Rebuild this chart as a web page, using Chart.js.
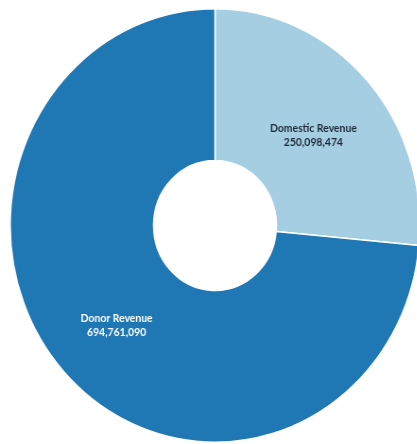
<!DOCTYPE html>
<html>
<head>
<meta charset="utf-8">
<script src="https://cdn.jsdelivr.net/npm/chart.js@4/dist/chart.umd.min.js"></script>
<style>
  html, body { margin: 0; padding: 0; background: #fff; overflow: hidden; }
  #wrap { width: 417px; height: 444px; overflow: hidden; position: relative; }
  #box { position: absolute; left: 0; top: 0; width: 455px; height: 444px; transform: scale(0.945, 1); transform-origin: 0 0; }
</style>
</head>
<body>
<div id="wrap"><div id="box"><canvas id="revenuePie" width="455" height="444"></canvas></div></div>
<script>
/* global Chart */
const labels = ['Domestic Revenue', 'Donor Revenue']
const values = [250098474, 694761090]
const colors = ['#a6cee3', '#1f77b4']
const labelColors = ['#1e2a38', '#ffffff']

// writes the name and amount on the middle of each slice
const sliceLabels = {
  id: 'sliceLabels',
  afterDatasetsDraw (chart) {
    const ctx = chart.ctx
    const meta = chart.getDatasetMeta(0)
    ctx.save()
    ctx.textAlign = 'center'
    ctx.textBaseline = 'middle'
    ctx.font = 'bold 11px Lato, "Open Sans", sans-serif'
    meta.data.forEach(function (arc, i) {
      const p = arc.tooltipPosition()
      ctx.fillStyle = labelColors[i]
      ctx.fillText(labels[i], p.x, p.y - 2)
      ctx.fillText(values[i].toLocaleString('en-US'), p.x, p.y + 12)
    })
    ctx.restore()
  }
}

window.addEventListener('load', function () {
  const ctx = document.getElementById('revenuePie').getContext('2d')
  // eslint-disable-next-line no-unused-vars
  const revenuePie = new Chart(ctx, {
    type: 'doughnut',
    data: {
      labels: labels,
      datasets: [
        {
          data: values,
          backgroundColor: colors,
          borderColor: '#ffffff',
          borderWidth: 1.5
        }
      ]
    },
    options: {
      responsive: false,
      animation: false,
      cutout: '30%',
      layout: { padding: { top: 8, bottom: 1, left: 10, right: 10 } },
      plugins: {
        legend: { display: false },
        tooltip: { enabled: false }
      }
    },
    plugins: [sliceLabels]
  })
})
</script>
</body>
</html>
